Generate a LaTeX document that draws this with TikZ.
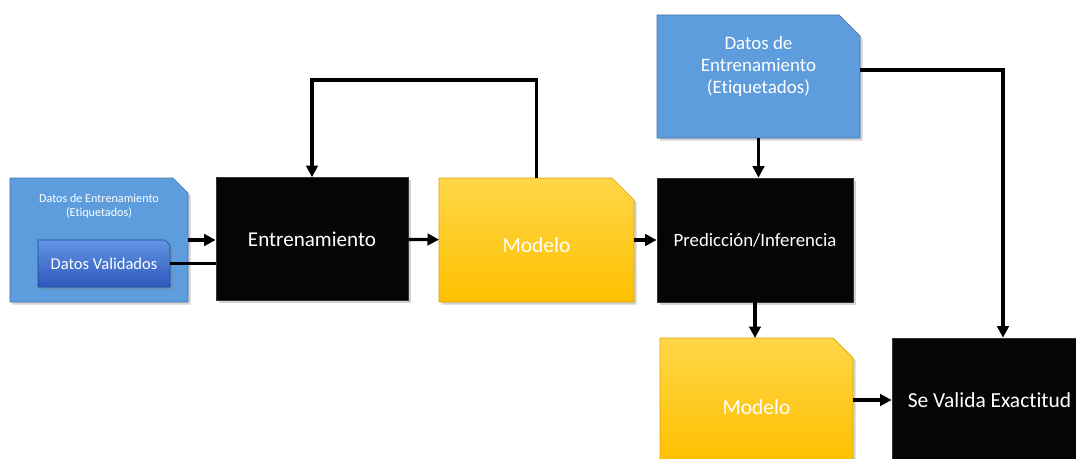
\documentclass[tikz,border=0pt]{standalone}
\usepackage{fontspec}
\setmainfont{Carlito}[Ligatures=NoCommon]
\usetikzlibrary{shadows,arrows.meta,backgrounds}

\definecolor{datablue}{RGB}{93,157,221}
\definecolor{validtop}{RGB}{98,148,228}
\definecolor{validbot}{RGB}{45,88,188}
\definecolor{modeltop}{RGB}{255,214,72}
\definecolor{modelbot}{RGB}{255,193,0}
\definecolor{blockblack}{RGB}{5,5,5}

% box with the top right corner cut off: node, cut size, style
\newcommand{\snipbox}[3]{%
    \path[#3] (#1.south west) -- (#1.north west) -- ([xshift=-#2]#1.north east)
        -- ([yshift=-#2]#1.north east) -- (#1.south east) -- cycle;}

\begin{document}
\begin{tikzpicture}[
        flow/.style = {line width=1.8pt, -{Triangle[length=2.3mm,width=2.3mm]}},
        link/.style = {line width=1.8pt},
        boxshadow/.style = {drop shadow={opacity=0.35, shadow xshift=0.05cm, shadow yshift=-0.05cm}},
        frame/.style = {rectangle, inner sep=0pt, outer sep=0pt, text=white, align=center},
        datafill/.style = {fill=datablue, draw=datablue!75!black, line width=0.4pt, boxshadow},
        validfill/.style = {top color=validtop, bottom color=validbot, draw=validbot!80!black,
                            line width=0.4pt, boxshadow},
        modelfill/.style = {top color=modeltop, bottom color=modelbot, draw=modelbot!85!black,
                            line width=0.4pt, boxshadow},
        block/.style = {rectangle, fill=blockblack, draw=black!80, line width=0.4pt, boxshadow,
                        text=white, minimum height=2.46cm}]

    \useasboundingbox (0,0) rectangle (21.52,-9.18);
    \clip (0,0) rectangle (21.52,-9.18);

    % Labelled data with the validated subset inside
    \node[frame, minimum width=3.56cm, minimum height=2.48cm] (dataL) at (1.98,-4.80) {};
    \node[frame, font=\fontsize{6.9}{8}\selectfont] (dataLtxt) at (1.98,-4.12)
        {Datos de Entrenamiento\\(Etiquetados)};
    \node[frame, minimum width=2.64cm, minimum height=0.94cm,
          font=\fontsize{9.4}{11}\selectfont] (val) at (2.08,-5.27) {Datos Validados};

    % Training and model
    \node[block, minimum width=3.84cm, font=\fontsize{12}{14}\selectfont] (train) at (6.24,-4.78) {Entrenamiento};
    \node[frame, minimum width=3.90cm, minimum height=2.48cm,
          font=\fontsize{12.2}{14}\selectfont] (model) at (10.73,-4.80) {};
    \node[frame, font=\fontsize{12.2}{14}\selectfont] (modeltxt) at (10.73,-4.90) {Modelo};

    % Inference stage
    \node[frame, minimum width=4.06cm, minimum height=2.46cm] (dataT) at (15.17,-1.53) {};
    \node[frame, font=\fontsize{10.8}{12.5}\selectfont] (dataTtxt) at (15.17,-1.32)
        {Datos de\\Entrenamiento\\(Etiquetados)};
    \node[block, minimum width=3.92cm, minimum height=2.48cm,
          font=\fontsize{10.7}{12}\selectfont] (pred) at (15.10,-4.80) {Predicción/Inferencia};

    % Validation
    \node[frame, minimum width=3.86cm, minimum height=2.48cm] (model2) at (15.13,-8.00) {};
    \node[frame, font=\fontsize{12.2}{14}\selectfont] (model2txt) at (15.13,-8.14) {Modelo};
    \node[block, minimum width=3.90cm, minimum height=2.48cm,
          font=\fontsize{12.2}{14}\selectfont] (check) at (19.79,-8.00) {Se Valida Exactitud};

    % Snipped boxes behind their texts
    \begin{scope}[on background layer]
        \snipbox{dataL}{0.3cm}{datafill}
        \snipbox{val}{0.1cm}{validfill}
        \snipbox{model}{0.44cm}{modelfill}
        \snipbox{dataT}{0.42cm}{datafill}
        \snipbox{model2}{0.4cm}{modelfill}
    \end{scope}

    % Connectors
    \coordinate (loop) at (8.5,-1.60);
    \draw[flow] (dataL.east) -- (dataL.east -| train.west);
    \draw[link] (val.east) -- (val.east -| train.west);
    \draw[flow] (train) -- (model);
    \draw[flow] (model.north) -- (model.north |- loop) -| (train.north);
    \draw[flow] (model) -- (pred);
    \draw[flow] (dataT.south) -- (dataT.south |- pred.north);
    \draw[flow] ([yshift=0.13cm]dataT.east) -| ([xshift=0.27cm]check.north);
    \draw[flow] (pred.south) -- (pred.south |- model2.north);
    \draw[flow] (model2) -- (check);

\end{tikzpicture}
\end{document}
